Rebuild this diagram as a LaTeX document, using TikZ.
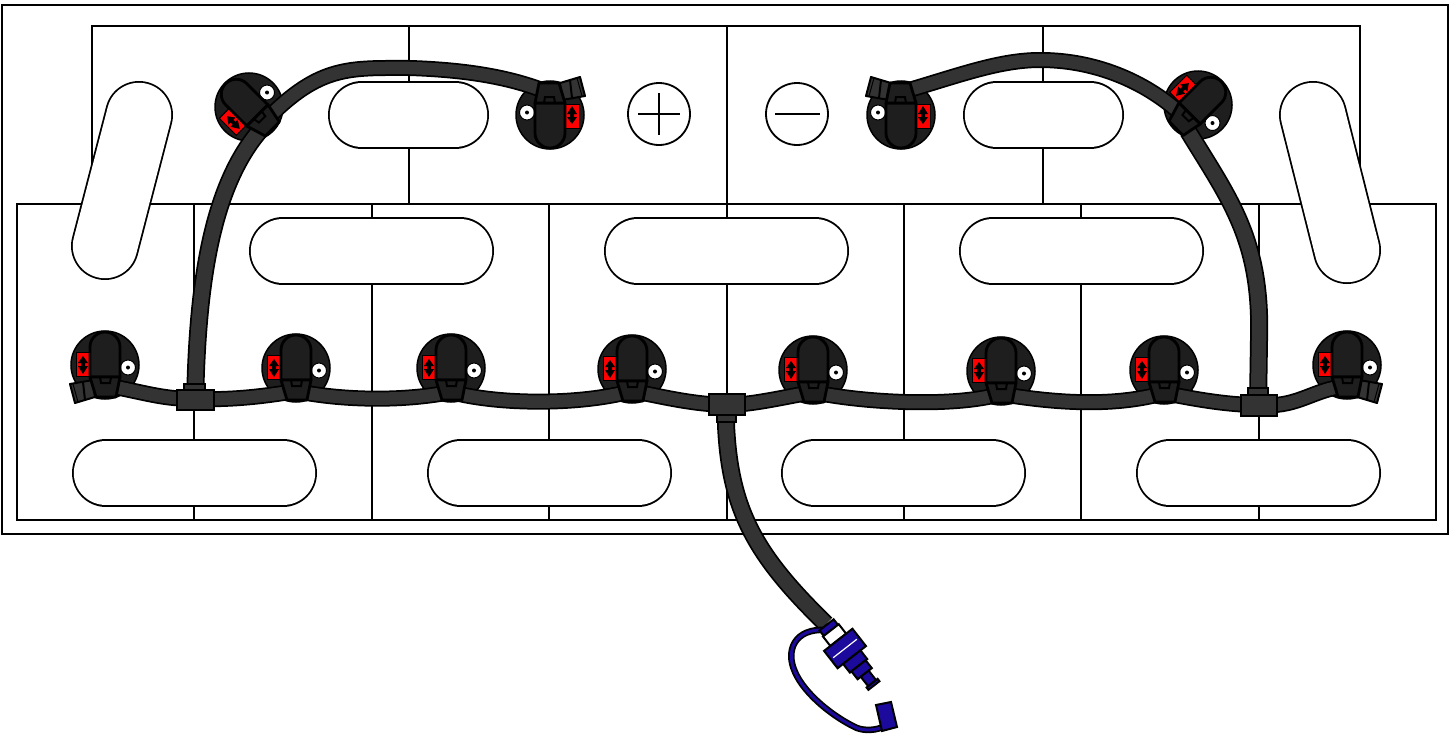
\documentclass[tikz,border=0pt]{standalone}
\usetikzlibrary{calc}
\definecolor{cablefill}{HTML}{333333}
\definecolor{bootfill}{HTML}{1E1E1E}
\definecolor{fuseblue}{HTML}{1C0A9C}
\newcommand{\capsule}[2]{%
  \draw[line width=68pt,line cap=round,black] (#1) -- (#2);
  \draw[line width=64.4pt,line cap=round,white] (#1) -- (#2);
}
\tikzset{
  x=1pt,y=-1pt,
  frameline/.style={line width=1.8pt,black},
  wireout/.style={line width=16pt,black},
  wirein/.style={line width=12.5pt,cablefill},
  branchout/.style={line width=18pt,black},
  branchin/.style={line width=14.5pt,cablefill},
  tee/.style={draw=black,line width=2.2pt,fill=cablefill},
  bootpart/.style={draw=black,line width=2.8pt,fill=bootfill,line join=round},
  fusepart/.style={draw=black,line width=2pt,fill=fuseblue,line join=miter},
  pics/termbase/.style={code={
    \fill[bootfill,draw=black,line width=1.5pt] (0,0) circle[radius=34];
    \draw[fill=red,draw=black,line width=1pt] (-29,-13) rectangle (-15,11);
    \fill[black] (-22,-9) -- (-17,-2) -- (-20,-2) -- (-20,1) -- (-17,1) -- (-22,9)
      -- (-27,1) -- (-24,1) -- (-24,-2) -- (-27,-2) -- cycle;
    \draw[fill=white,draw=black,line width=1pt] (23,2.5) circle[radius=7.5];
    \fill[black] (23,2.5) circle[radius=2];
  }},
  pics/termboot/.style={code={
    \draw[bootpart] (-15,12) -- (-15,-18) arc[start angle=180,end angle=360,radius=15] -- (15,12) -- cycle;
    \draw[bootpart] (-15,12) -- (15,12) -- (11,32) -- (-9,32) -- cycle;
    \draw[black,line width=2pt] (-5,12) -- (-4,18) -- (5,18) -- (6,12);
  }},
  pics/termstub/.style={code={
    \draw[fill=cablefill,draw=black,line width=2pt,line join=round] (-35,19) -- (-12,15) -- (-10,32) -- (-30,38) -- cycle;
    \draw[black,line width=2pt] (-22,17) -- (-20,35);
    \draw[black,line width=1pt] (-32,19) -- (-27,37);
  }}
}
\begin{document}
\begin{tikzpicture}
\useasboundingbox (0,0) rectangle (1454,736);
\fill[white] (0,0) rectangle (1454,736);
% battery frames
\draw[frameline] (2,5) rectangle (1448,534);
\draw[frameline] (92,204) -- (92,26) -- (1360,26) -- (1360,204);
\foreach \xv in {409,727,1043} \draw[frameline] (\xv,26) -- (\xv,204);
\draw[frameline] (17,204) rectangle (1436,520);
\foreach \xv in {194,372,549,727,904,1081,1259} \draw[frameline] (\xv,204) -- (\xv,520);
% handles
\capsule{139,115}{105,246}
\capsule{1313,115}{1347,250}
\capsule{362,115}{455,115}
\capsule{997,115}{1090,115}
\capsule{283,251}{460,251}
\capsule{638,251}{815,251}
\capsule{993,251}{1170,251}
\capsule{106,473}{283,473}
\capsule{461,473}{638,473}
\capsule{815,473}{992,473}
\capsule{1170,473}{1347,473}
% polarity marks
\node[circle,draw=black,line width=1.8pt,fill=white,minimum size=62pt,inner sep=0pt] (plus) at (659,114) {};
\node[circle,draw=black,line width=1.8pt,fill=white,minimum size=62pt,inner sep=0pt] (minus) at (797,114) {};
\draw[black,line width=1.8pt] (638,114) -- (680,114) (659,93) -- (659,135);
\draw[black,line width=1.8pt] (775,114) -- (820,114);
% terminal positions
\coordinate (b1) at (105,365);
\coordinate (b2) at (296,368);
\coordinate (b3) at (451,368);
\coordinate (b4) at (632,369);
\coordinate (b5) at (813,370);
\coordinate (b6) at (1001,371);
\coordinate (b7) at (1164,370);
\coordinate (b8) at (1347,365);
\coordinate (t1) at (249,107);
\coordinate (t2) at (550,115);
\coordinate (t3) at (901,115);
\coordinate (t4) at (1198,105);
\coordinate (teeA) at (195,399);
\coordinate (teeB) at (726,405);
\coordinate (teeC) at (1258,405);
% terminal bases
\foreach \nm in {b1,b2,b3,b4,b5,b6,b7,b8} \pic at (\nm) {termbase};
\pic[rotate=45] at (t1) {termbase};
\pic[rotate=180] at (t2) {termbase};
\pic[rotate=180] at (t3) {termbase};
\pic[rotate=-45] at (t4) {termbase};
% cables
\foreach \st/\wd in {wireout/a,wirein/b}{
  \draw[\st] (b1) ++(10,22) .. controls (150,394) and (165,399) .. (teeA);
  \draw[\st] (teeA) .. controls (230,400) and (260,397) .. ($(b2)+(0,23)$);
  \draw[\st] ($(b2)+(0,23)$) .. controls (340,400) and (400,402) .. ($(b3)+(0,24)$);
  \draw[\st] ($(b3)+(0,24)$) .. controls (500,405) and (580,405) .. ($(b4)+(0,22)$);
  \draw[\st] ($(b4)+(0,22)$) .. controls (660,396) and (690,404) .. (teeB);
  \draw[\st] (teeB) .. controls (750,405) and (780,398) .. ($(b5)+(0,22)$);
  \draw[\st] ($(b5)+(0,22)$) .. controls (860,402) and (950,408) .. ($(b6)+(0,23)$);
  \draw[\st] ($(b6)+(0,23)$) .. controls (1050,402) and (1110,408) .. ($(b7)+(0,23)$);
  \draw[\st] ($(b7)+(0,23)$) .. controls (1190,398) and (1225,405) .. (teeC);
  \draw[\st] (teeC) .. controls (1295,408) and (1310,392) .. ($(b8)+(-8,22)$);
  \draw[\st] ($(t1)+(18,12)$) .. controls (320,65) and (350,68) .. (410,68) .. controls (470,70) and (510,78) .. ($(t2)+(-8,-25)$);
  \draw[\st] ($(t3)+(8,-25)$) .. controls (960,75) and (1000,60) .. (1040,60) .. controls (1100,60) and (1150,85) .. ($(t4)+(-16,10)$);
}
\foreach \st/\wd in {branchout/a,branchin/b}{
  \draw[\st] (teeA) -- (196,370) .. controls (200,270) and (215,180) .. ($(t1)+(14,20)$);
  \draw[\st] (teeC) -- (1259,340) .. controls (1262,240) and (1230,200) .. ($(t4)+(-10,26)$);
  \draw[\st] (teeB) -- (726,425) .. controls (730,510) and (755,555) .. (826,624);
}
% stubs and boots
\pic at (b1) {termstub};
\pic[xscale=-1] at (b8) {termstub};
\pic[rotate=180] at (t2) {termstub};
\pic[yscale=-1] at (t3) {termstub};
\foreach \nm in {b1,b2,b3,b4,b5,b6,b7,b8} \pic at (\nm) {termboot};
\pic[rotate=45] at (t1) {termboot};
\pic[rotate=180] at (t2) {termboot};
\pic[rotate=180] at (t3) {termboot};
\pic[rotate=-45] at (t4) {termboot};
% tees
\draw[tee] (184,391) rectangle (205,384);
\draw[tee] (177,390) rectangle (214,410);
\draw[tee] (717,414) rectangle (736,422);
\draw[tee] (709,394) rectangle (745,415);
\draw[tee] (1248,396) rectangle (1268,388);
\draw[tee] (1241,395) rectangle (1277,416);
% fuse wire and cap
\coordinate (wireA) at (826,630);
\coordinate (wireB) at (880,728);
\draw[black,line width=6.5pt,line cap=round] (wireA) .. controls (795,628) and (785,650) .. (795,672) .. controls (805,695) and (835,718) .. (857,728) .. controls (865,731) and (875,730) .. (wireB);
\draw[fuseblue,line width=3pt,line cap=round] (wireA) .. controls (795,628) and (785,650) .. (795,672) .. controls (805,695) and (835,718) .. (857,728) .. controls (865,731) and (875,730) .. (wireB);
\draw[fusepart] (876,705) -- (891,702) -- (897,727) -- (882,731) -- cycle;
% fuse holder
\begin{scope}[shift={(829,628)},rotate=-52]
  \draw[fusepart] (-4,-9) rectangle (3,9);
  \draw[draw=black,line width=2pt,fill=white] (3,-10) rectangle (15,10);
  \draw[fusepart] (15,-18) rectangle (37,18);
  \draw[white,line width=1.2pt] (26,-15) -- (26,15);
  \draw[fusepart] (37,-11) rectangle (48,11);
  \draw[fusepart] (48,-9) rectangle (58,9);
  \draw[fusepart] (58,-5) rectangle (70,5);
  \draw[fusepart] (70,-7) rectangle (73,7);
\end{scope}
\end{tikzpicture}
\end{document}
